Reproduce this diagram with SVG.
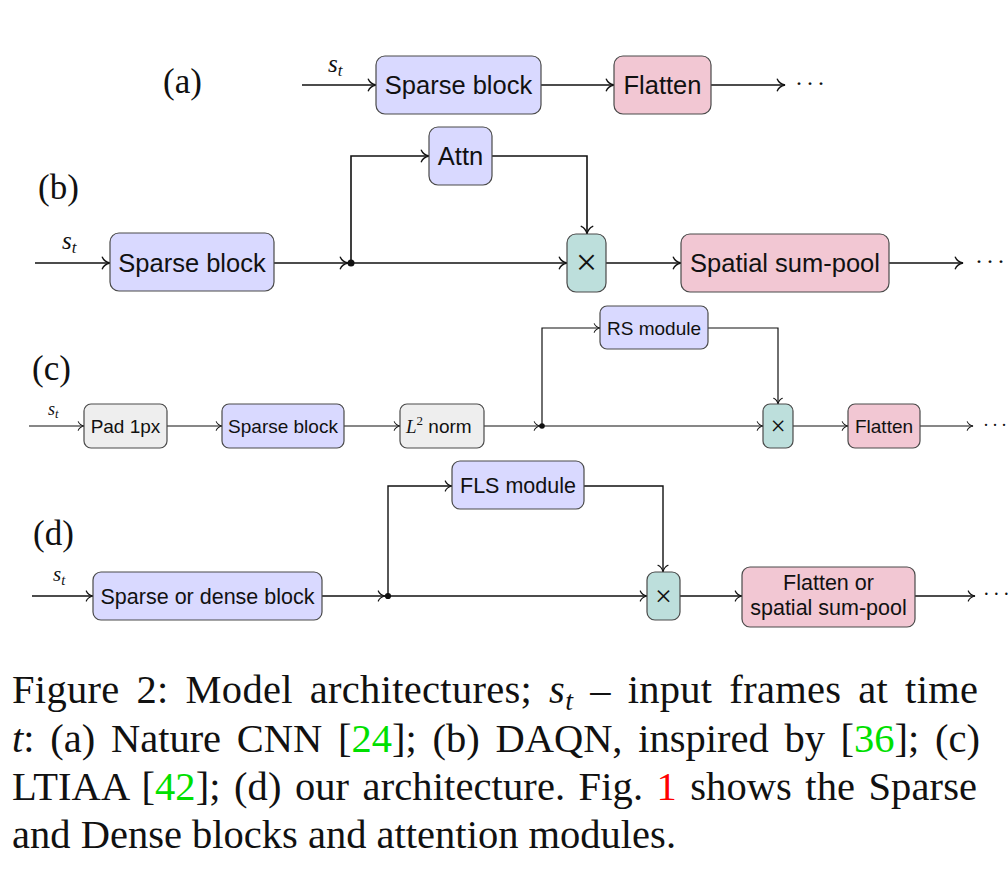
<svg xmlns="http://www.w3.org/2000/svg" width="1008" height="878" viewBox="0 0 1008 878">
<style>
  .blue{fill:#D9D9FF;stroke:#4a4a4a;stroke-width:1.2}
  .pink{fill:#F2C7D3;stroke:#4a4a4a;stroke-width:1.2}
  .teal{fill:#BDDFDC;stroke:#4a4a4a;stroke-width:1.2}
  .gray{fill:#EEEEEE;stroke:#4a4a4a;stroke-width:1.2}
  .lbl{font-family:"Liberation Sans",Arial,sans-serif;fill:#111;text-anchor:middle}
  .mul{font-family:"Liberation Serif","Times New Roman",serif;fill:#111;text-anchor:middle}
  .t1{font-size:25.5px}
  .t3{font-size:19px}
  .t4{font-size:21.5px}
  .row{font-family:"Liberation Serif","Times New Roman",serif;font-size:35px;fill:#111}
  .math{font-family:"Liberation Serif","Times New Roman",serif;font-style:italic;fill:#111}
  .cap{font-family:"Liberation Serif","Times New Roman",serif;font-size:40.5px;fill:#111}
  .cdots{font-family:"Liberation Serif","Times New Roman",serif;fill:#111}
  .c1{fill:none;stroke:#111;stroke-width:1.6}
  .c3{fill:none;stroke:#111;stroke-width:1.2}
  .c4{fill:none;stroke:#111;stroke-width:1.4}
  .arr{marker-end:url(#to)}
  .g{fill:#00E000}
  .r{fill:#FF0000}
</style>
<defs>
  <marker id="to" viewBox="-6 -5 7 10" refX="0" refY="0" markerWidth="7" markerHeight="10" orient="auto" markerUnits="strokeWidth">
    <path d="M-4.8,-3.6 C-3.9,-1.4 -1.5,-0.35 0,0 C-1.5,0.35 -3.9,1.4 -4.8,3.6" fill="none" stroke="#111" stroke-width="0.85" stroke-linecap="round"/>
  </marker>
</defs>

<!-- row labels -->
<text class="row" x="163" y="93">(a)</text>
<text class="row" x="38" y="199">(b)</text>
<text class="row" x="32" y="380">(c)</text>
<text class="row" x="33" y="545">(d)</text>

<!-- input labels s_t -->
<text class="math" x="328" y="72" font-size="25">s<tspan font-size="17" dy="4">t</tspan></text>
<text class="math" x="62" y="249" font-size="25">s<tspan font-size="17" dy="4">t</tspan></text>
<text class="math" x="48" y="415" font-size="18">s<tspan font-size="12.5" dy="3">t</tspan></text>
<text class="math" x="53" y="581" font-size="21">s<tspan font-size="14.5" dy="3.5">t</tspan></text>

<!-- connectors -->
<g id="connectors">
  <!-- (a) -->
  <path class="c1 arr" d="M302,85 H376"/>
  <path class="c1 arr" d="M541,85 H614"/>
  <path class="c1 arr" d="M711,85 H785"/>
  <!-- (b) -->
  <path class="c1 arr" d="M35,263 H110"/>
  <path class="c1 arr" d="M274,263 H348"/>
  <path class="c1 arr" d="M351,263 V156 H429"/>
  <path class="c1 arr" d="M492,156 H587 V234"/>
  <path class="c1 arr" d="M351,263 H567"/>
  <path class="c1 arr" d="M606,263 H681"/>
  <path class="c1 arr" d="M889,263 H963"/>
  <circle cx="351" cy="263" r="3.5" fill="#111"/>
  <!-- (c) -->
  <path class="c3 arr" d="M29,426 H84"/>
  <path class="c3 arr" d="M167,426 H222"/>
  <path class="c3 arr" d="M344,426 H400"/>
  <path class="c3 arr" d="M484,426 H540"/>
  <path class="c3 arr" d="M542,426 V328 H600"/>
  <path class="c3 arr" d="M708,328 H778 V404"/>
  <path class="c3 arr" d="M542,426 H763"/>
  <path class="c3 arr" d="M793,426 H848"/>
  <path class="c3 arr" d="M920,426 H973"/>
  <circle cx="542" cy="426" r="2.8" fill="#111"/>
  <!-- (d) -->
  <path class="c4 arr" d="M32,596 H93"/>
  <path class="c4 arr" d="M322,596 H385"/>
  <path class="c4 arr" d="M388,596 V486 H452"/>
  <path class="c4 arr" d="M584,486 H663 V572"/>
  <path class="c4 arr" d="M388,596 H647"/>
  <path class="c4 arr" d="M680,596 H742"/>
  <path class="c4 arr" d="M915,596 H975"/>
  <circle cx="388" cy="596" r="3.1" fill="#111"/>
</g>

<!-- continuation dots -->
<text class="cdots" font-size="24" x="795 806 817" y="91">···</text>
<text class="cdots" font-size="24" x="975 986 997" y="269">···</text>
<text class="cdots" font-size="18" x="983 992 1001" y="431">···</text>
<text class="cdots" font-size="20" x="983 993 1003" y="601">···</text>

<!-- (a) nodes -->
<g id="a_sparse"><rect class="blue" x="376" y="56" width="165" height="58" rx="9"/><text class="lbl t1" x="458.5" y="94">Sparse block</text></g>
<g id="a_flatten"><rect class="pink" x="614" y="56" width="97" height="58" rx="9"/><text class="lbl t1" x="662.5" y="94">Flatten</text></g>

<!-- (b) nodes -->
<g id="b_sparse"><rect class="blue" x="110" y="233" width="164" height="58" rx="9"/><text class="lbl t1" x="192" y="272">Sparse block</text></g>
<g id="b_attn"><rect class="blue" x="429" y="127" width="63" height="58" rx="9"/><text class="lbl t1" x="460.5" y="165">Attn</text></g>
<g id="b_mul"><rect class="teal" x="567" y="234" width="39" height="58" rx="9"/><text class="mul" font-size="38" x="586.5" y="275">×</text></g>
<g id="b_pool"><rect class="pink" x="681" y="234" width="208" height="58" rx="9"/><text class="lbl t1" x="785" y="272">Spatial sum-pool</text></g>

<!-- (c) nodes -->
<g id="c_pad"><rect class="gray" x="84" y="404" width="83" height="44" rx="7"/><text class="lbl t3" x="125.5" y="432.5">Pad 1px</text></g>
<g id="c_sparse"><rect class="blue" x="222" y="404" width="122" height="44" rx="7"/><text class="lbl t3" x="283" y="432.5">Sparse block</text></g>
<g id="c_norm"><rect class="gray" x="400" y="404" width="84" height="44" rx="7"/><text x="406" y="433" font-size="19" fill="#111"><tspan class="math">L</tspan><tspan font-family="Liberation Serif, serif" font-size="13" dy="-8">2</tspan><tspan font-family="Liberation Sans, Arial, sans-serif" dy="8"> norm</tspan></text></g>
<g id="c_rs"><rect class="blue" x="600" y="306" width="108" height="43" rx="7"/><text class="lbl t3" x="654" y="335">RS module</text></g>
<g id="c_mul"><rect class="teal" x="763" y="404" width="30" height="44" rx="7"/><text class="mul" font-size="27" x="778" y="435">×</text></g>
<g id="c_flatten"><rect class="pink" x="848" y="404" width="72" height="44" rx="7"/><text class="lbl t3" x="884" y="432.5">Flatten</text></g>

<!-- (d) nodes -->
<g id="d_block"><rect class="blue" x="93" y="572" width="229" height="48" rx="8"/><text class="lbl t4" x="207.5" y="604">Sparse or dense block</text></g>
<g id="d_fls"><rect class="blue" x="452" y="461" width="132" height="48" rx="8"/><text class="lbl t4" x="518" y="493">FLS module</text></g>
<g id="d_mul"><rect class="teal" x="647" y="572" width="33" height="48" rx="8"/><text class="mul" font-size="30" x="663.5" y="606">×</text></g>
<g id="d_out"><rect class="pink" x="742" y="567" width="173" height="60" rx="8"/><text class="lbl t4" x="828.5" y="590">Flatten or</text><text class="lbl t4" x="828.5" y="615">spatial sum-pool</text></g>

<!-- caption -->
<text class="cap" x="12" y="703" word-spacing="6.5" textLength="966" lengthAdjust="spacing">Figure 2:  Model architectures; <tspan font-style="italic">s</tspan><tspan font-style="italic" font-size="28" dy="7">t</tspan><tspan dy="-7"> – input frames at time</tspan></text>
<text class="cap" x="12" y="752" word-spacing="5.6" textLength="968" lengthAdjust="spacing"><tspan font-style="italic">t</tspan>: (a) Nature CNN [<tspan class="g">24</tspan>]; (b) DAQN, inspired by [<tspan class="g">36</tspan>]; (c)</text>
<text class="cap" x="12" y="800" word-spacing="3.1" textLength="965" lengthAdjust="spacing">LTIAA [<tspan class="g">42</tspan>]; (d) our architecture. Fig. <tspan class="r">1</tspan> shows the Sparse</text>
<text class="cap" x="12" y="848" textLength="664" lengthAdjust="spacing">and Dense blocks and attention modules.</text>
</svg>
